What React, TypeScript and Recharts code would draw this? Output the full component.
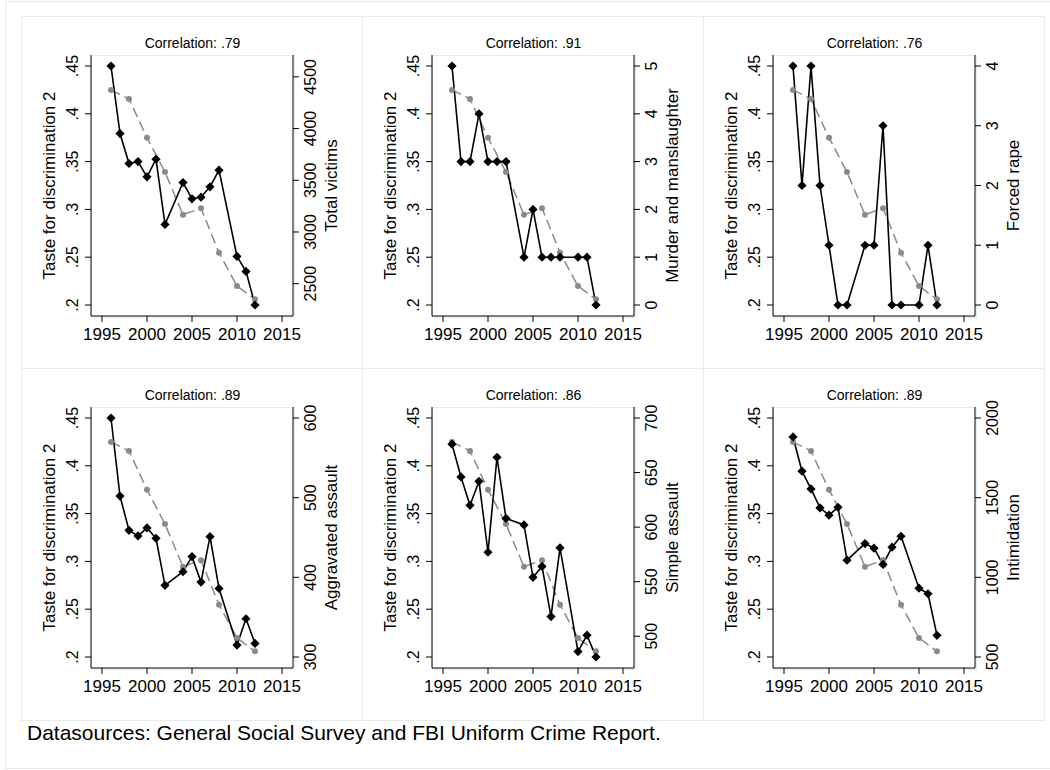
import { LineChart, Line, XAxis, YAxis } from 'recharts';

// GSS taste for discrimination (every two years)
const tasteYears = [1996, 1998, 2000, 2002, 2004, 2006, 2008, 2010, 2012];
const taste = [0.425, 0.4155, 0.375, 0.339, 0.2944, 0.3013, 0.2547, 0.2198, 0.2059];

// FBI UCR hate crime counts
const crimeYears = [1996, 1997, 1998, 1999, 2000, 2001, 2002, 2004, 2005, 2006, 2007, 2008, 2010, 2011, 2012];
const totalVictims = [4605, 3952, 3662, 3681, 3533, 3704, 3073, 3478, 3321, 3337, 3437, 3598, 2764, 2619, 2294];
const murder = [5, 3, 3, 4, 3, 3, 3, 1, 2, 1, 1, 1, 1, 1, 0];
const rape = [4, 2, 4, 2, 1, 0, 0, 1, 1, 3, 0, 0, 0, 1, 0];
const aggravated = [600, 502, 459, 452, 462, 449, 390, 407, 426, 394, 451, 386, 315, 348, 317];
const simple = [676, 646, 620, 642, 577, 664, 608, 602, 554, 564, 518, 581, 486, 501, 481];
const intimidation = [1881, 1666, 1555, 1436, 1390, 1440, 1108, 1212, 1183, 1081, 1189, 1258, 932, 897, 636];

const yearTicks = [1995, 2000, 2005, 2010, 2015];
const tasteTicks = [0.2, 0.25, 0.3, 0.35, 0.4, 0.45];

const correlations = ['.79', '.91', '.76', '.89', '.86', '.89'];
const crimeLabels = ['Total victims', 'Murder and manslaughter', 'Forced rape', 'Aggravated assault', 'Simple assault', 'Intimidation'];
const crimeSeries = [totalVictims, murder, rape, aggravated, simple, intimidation];
const crimeTicks = [
  [2500, 3000, 3500, 4000, 4500],
  [0, 1, 2, 3, 4, 5],
  [0, 1, 2, 3, 4],
  [300, 400, 500, 600],
  [500, 550, 600, 650, 700],
  [500, 1000, 1500, 2000],
];
const crimeDomains = [
  [2294, 4605],
  [0, 5],
  [0, 4],
  [300, 600],
  [481, 700],
  [500, 2000],
];

const FONT = '"Liberation Sans", Arial, Helvetica, sans-serif';
const FRAME = '#e5ecef';
const PW = 341;
const PH = 352;

function buildRows(values: number[]) {
  const years = Array.from(new Set([...tasteYears, ...crimeYears])).sort((a, b) => a - b);
  return years.map((year) => {
    const ti = tasteYears.indexOf(year);
    const ci = crimeYears.indexOf(year);
    return { year, taste: ti >= 0 ? taste[ti] : null, crime: ci >= 0 ? values[ci] : null };
  });
}

const fmt = (v: number) => String(v).replace(/^0\./, '.');

const VTick = (props: any) => {
  const { x, y, payload } = props;
  return (
    <text x={x} y={y} transform={`rotate(-90 ${x} ${y})`} textAnchor="middle" fontSize={16} fill="#000" fontFamily={FONT}>
      {fmt(payload.value)}
    </text>
  );
};

const Diamond = (p: any) => {
  if (p.cx == null || p.cy == null || p.value == null) return <g key={`d-${p.index}`} />;
  const s = 4.6;
  return <path key={`d-${p.index}`} d={`M${p.cx},${p.cy - s}L${p.cx + s},${p.cy}L${p.cx},${p.cy + s}L${p.cx - s},${p.cy}Z`} fill="#000" />;
};

const GrayDot = (p: any) => {
  if (p.cx == null || p.cy == null || p.value == null) return <g key={`c-${p.index}`} />;
  return <circle key={`c-${p.index}`} cx={p.cx} cy={p.cy} r={3} fill="#8a8a8a" />;
};

const axisTitle = (text: string, bx: number) => (props: any) => {
  const vb = props.viewBox || {};
  const cy = (vb.y ?? 39) + (vb.height ?? 261) / 2;
  return (
    <text x={bx} y={cy} transform={`rotate(-90 ${bx} ${cy})`} textAnchor="middle" fontSize={17} fill="#000" fontFamily={FONT}>
      {text}
    </text>
  );
};

function Panel({ i }: { i: number }) {
  const left = 21 + (i % 3) * PW;
  const top = 16 + Math.floor(i / 3) * PH;
  const rows = buildRows(crimeSeries[i]);
  return (
    <div style={{ position: 'absolute', left, top, width: PW + 1, height: PH + 1, boxSizing: 'border-box', border: `1px solid ${FRAME}` }}>
      <div style={{ position: 'absolute', left: 69, top: 38, width: 204, height: 263, boxSizing: 'border-box', border: `1px solid ${FRAME}` }} />
      <div style={{ position: 'absolute', left: 0, top: 18, width: PW, textAlign: 'center', fontSize: 14, lineHeight: '16px', fontFamily: FONT, color: '#000' }}>
        Correlation: {correlations[i]}
      </div>
      <div style={{ position: 'absolute', left: -1, top: -1 }}>
        <LineChart width={PW} height={PH} data={rows} margin={{ top: 39, right: 0, bottom: 0, left: 0 }} style={{ fontFamily: FONT }}>
          <XAxis
            dataKey="year"
            type="number"
            domain={[1995, 2015]}
            ticks={yearTicks}
            padding={{ left: 11, right: 11 }}
            height={52}
            tickSize={6}
            tickMargin={6}
            stroke="#000"
            tick={{ fill: '#000', fontSize: 17, fontFamily: FONT }}
            interval={0}
          />
          <YAxis
            yAxisId="left"
            orientation="left"
            domain={[0.2, 0.45]}
            ticks={tasteTicks}
            padding={{ top: 11, bottom: 11 }}
            width={70}
            tickSize={6}
            tickMargin={7}
            stroke="#000"
            tick={<VTick />}
            interval={0}
            label={{ content: axisTitle('Taste for discrimination 2', 34) }}
          />
          <YAxis
            yAxisId="right"
            orientation="right"
            domain={crimeDomains[i]}
            ticks={crimeTicks[i]}
            padding={{ top: 11, bottom: 11 }}
            width={69}
            tickSize={6}
            tickMargin={17}
            stroke="#000"
            tick={<VTick />}
            interval={0}
            label={{ content: axisTitle(crimeLabels[i], 316) }}
          />
          <Line
            yAxisId="left"
            dataKey="taste"
            type="linear"
            stroke="#8a8a8a"
            strokeWidth={1.5}
            strokeDasharray="10 5"
            connectNulls
            dot={GrayDot}
            activeDot={false}
            isAnimationActive={false}
          />
          <Line
            yAxisId="right"
            dataKey="crime"
            type="linear"
            stroke="#000"
            strokeWidth={1.6}
            connectNulls
            dot={Diamond}
            activeDot={false}
            isAnimationActive={false}
          />
        </LineChart>
      </div>
    </div>
  );
}

export default function App() {
  return (
    <div style={{ position: 'absolute', left: 0, top: 0, width: 1050, height: 770, background: '#fff', fontFamily: FONT }}>
      <div style={{ position: 'absolute', left: 5, top: 1, width: 1050, height: 768, boxSizing: 'border-box', border: `1px solid ${FRAME}` }} />
      {[0, 1, 2, 3, 4, 5].map((i) => (
        <Panel key={i} i={i} />
      ))}
      <div style={{ position: 'absolute', left: 27, top: 721, fontSize: 21, lineHeight: '24px', color: '#000', whiteSpace: 'nowrap' }}>
        Datasources: General Social Survey and FBI Uniform Crime Report.
      </div>
    </div>
  );
}
